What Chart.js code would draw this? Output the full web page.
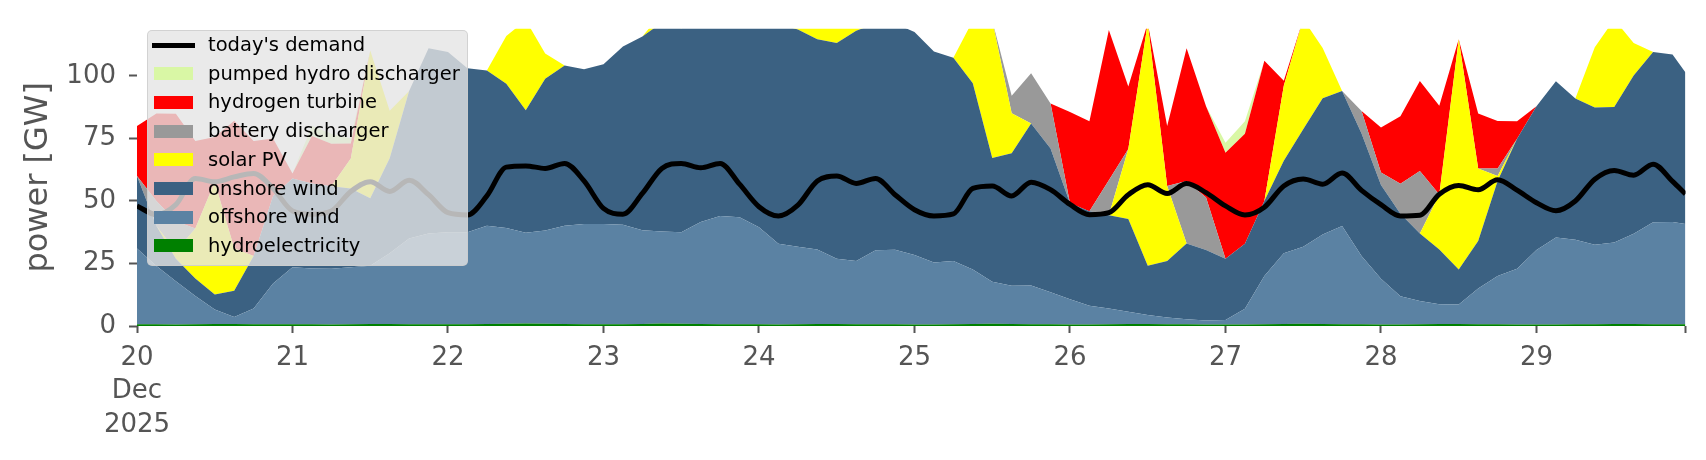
<!DOCTYPE html>
<html>
<head>
<meta charset="utf-8">
<title>power [GW]</title>
<script src="https://cdn.jsdelivr.net/npm/chart.js@4.4.1/dist/chart.umd.min.js"></script>
<style>
  html, body { margin: 0; padding: 0; background: #fff; }
  #wrap { position: relative; width: 1706px; height: 460px; }
  #legend {
    position: absolute; left: 147px; top: 30px; width: 321px; height: 236px;
    box-sizing: border-box; background: rgba(229, 229, 229, 0.8);
    border: 1px solid rgba(204, 204, 204, 0.8); border-radius: 5px;
    font-family: "DejaVu Sans", sans-serif; font-size: 19.5px; color: #000;
  }
  .row { position: absolute; left: 0; right: 0; height: 28px; }
  .row span.txt { position: absolute; left: 60px; top: 0; line-height: 28px; white-space: nowrap; }
  .row .patch { position: absolute; left: 6px; top: 7.5px; width: 39px; height: 13px; }
  .row .line { position: absolute; left: 3.5px; top: 11.5px; width: 43.5px; height: 5px; }
</style>
</head>
<body>
<div id="wrap">
  <canvas id="chart" width="1706" height="460"></canvas>
  <div id="legend"></div>
</div>
<script>
// hours since 20 Dec 2025 00:00, sampled every 3 h
const hours = [
  0, 3, 6, 9, 12, 15, 18, 21,
  24, 27, 30, 33, 36, 39, 42, 45,
  48, 51, 54, 57, 60, 63, 66, 69,
  72, 75, 78, 81, 84, 87, 90, 93,
  96, 99, 102, 105, 108, 111, 114, 117,
  120, 123, 126, 129, 132, 135, 138, 141,
  144, 147, 150, 153, 156, 159, 162, 165,
  168, 171, 174, 177, 180, 183, 186, 189,
  192, 195, 198, 201, 204, 207, 210, 213,
  216, 219, 222, 225, 228, 231, 234, 237, 239
];
const dayLabels = ["20", "21", "22", "23", "24", "25", "26", "27", "28", "29"];
const firstMonth = "Dec";
const firstYear = "2025";

// GW
const hydro = [
  0.7, 0.7, 0.6, 0.7, 0.8, 0.8, 0.7, 0.7,
  0.7, 0.7, 0.6, 0.7, 0.8, 0.8, 0.7, 0.7,
  0.7, 0.7, 0.8, 0.9, 1.0, 0.9, 0.8, 0.7,
  0.7, 0.7, 0.8, 1.0, 0.9, 0.8, 0.7, 0.7,
  0.7, 0.6, 0.7, 0.8, 0.8, 0.7, 0.7, 0.7,
  0.6, 0.6, 0.7, 0.8, 0.9, 0.8, 0.7, 0.7,
  0.6, 0.6, 0.7, 0.8, 0.8, 0.7, 0.7, 0.6,
  0.6, 0.6, 0.7, 0.8, 0.9, 0.8, 0.7, 0.7,
  0.6, 0.6, 0.7, 0.8, 0.8, 0.7, 0.7, 0.6,
  0.6, 0.6, 0.7, 0.7, 0.8, 0.8, 0.7, 0.7, 0.7
];
const offshore = [
  30.3, 23.3, 17.3, 11.3, 5.8, 2.8, 6.3, 16.3,
  22.8, 22.3, 22.3, 22.8, 23.3, 28.3, 34.3, 36.3,
  36.8, 36.8, 39.3, 38.3, 36.3, 37.3, 39.3, 40.1,
  40.1, 39.8, 37.5, 36.8, 36.6, 40.8, 43.3, 42.8,
  38.8, 32.3, 31.0, 29.8, 26.1, 25.3, 29.6, 29.8,
  27.8, 24.8, 25.3, 21.8, 16.8, 15.3, 15.5, 12.8,
  10.1, 7.5, 6.3, 4.9, 3.6, 2.7, 2.0, 1.6,
  1.8, 6.3, 19.3, 28.3, 30.8, 35.8, 39.3, 27.3,
  18.3, 11.3, 9.3, 7.9, 7.8, 14.3, 19.3, 22.3,
  29.8, 34.8, 33.8, 31.8, 32.6, 36.1, 40.8, 40.9, 40.1
];
const onshore = [
  29, 16, 9, 7, 6, 10.5, 21, 35,
  35.5, 34, 33, 31.5, 27, 38, 59, 74,
  72, 65.5, 62, 57.7, 49, 60.7, 64, 61.8,
  63.8, 71.2, 77.4, 83.5, 81.5, 80.5, 80, 80.5,
  83.5, 88, 86.8, 84, 86.2, 92, 90.7, 90.5,
  89.1, 84.3, 81.2, 74.5, 49.5, 53, 64.8, 57.5,
  38.4, 37.8, 37.3, 37.1, 19.7, 22.6, 30.3, 28.2,
  24.5, 26, 30, 37, 47, 54.5, 54, 49,
  37.5, 33, 27, 21.9, 14, 19, 38, 52,
  57.5, 62.5, 56.5, 54.9, 54.2, 63.2, 68, 66.9, 60.5
];
const solar = [
  0, 0, 3, 20, 45, 17, 0, 0,
  0, 0, 0, 12, 59, 19, 0, 0,
  0, 0, 0, 19, 36, 10, 0, 0,
  0, 0, 0, 4, 3, 3, 0, 0,
  0, 0, 3, 9, 10, 4, 0, 0,
  0, 0, 0, 25, 55, 16, 0, 0,
  0, 0, 0, 28, 97, 30, 0, 0,
  0, 0, 0, 30, 44, 20, 0, 0,
  0, 0, 0, 22, 92, 29, 2, 0,
  0, 0, 0, 24, 35, 13, 0, 0, 0
];
const battery = [
  0, 10, 12, 0, 0, 0, 0, 0,
  0, 0, 0, 0, 0, 0, 0, 0,
  0, 0, 0, 0, 0, 0, 0, 0,
  0, 0, 0, 0, 0, 0, 0, 0,
  0, 0, 0, 0, 0, 0, 0, 0,
  0, 0, 0, 0, 0, 7, 20, 18,
  0, 0, 14, 0, 0, 0, 25, 21,
  0, 0, 0, 0, 0, 0, 0, 9,
  5, 12, 25, 0, 0, 0, 3, 0,
  0, 0, 0, 0, 0, 0, 0, 0, 0
];
const hydrogen = [
  20, 35, 43, 35, 18, 51, 46, 23,
  2, 19, 17, 6, 0, 0, 0, 0,
  0, 0, 0, 0, 0, 0, 0, 0,
  0, 0, 0, 0, 0, 0, 0, 0,
  0, 0, 0, 0, 0, 0, 0, 0,
  0, 0, 0, 0, 0, 0, 0, 0,
  36.5, 36, 60, 25, 0, 24, 53, 36.5,
  42.4, 44, 56, 2, 0, 0, 0, 0,
  18, 27, 36, 35.5, 0, 22, 19, 7,
  0, 0, 0, 0, 0, 0, 0, 0, 0
];
const pumpedHydro = [
  0, 0, 0, 0, 0, 0, 0, 0,
  0, 4, 4, 2, 0, 0, 0, 0,
  0, 0, 0, 0, 0, 0, 0, 0,
  0, 0, 0, 0, 0, 0, 0, 0,
  0, 0, 0, 0, 0, 0, 0, 0,
  0, 0, 0, 0, 0, 0, 0, 0,
  0, 0, 0, 0, 0, 0, 0, 0,
  4, 5, 0, 0, 0, 0, 0, 0,
  0, 0, 0, 0, 0, 0, 0, 0,
  0, 0, 0, 0, 0, 0, 0, 0, 0
];
const demand = [
  48, 44.5, 48.5, 59, 57.7, 59.6, 61, 55,
  46, 44.7, 46, 53.8, 57.7, 53.8, 58.3, 52.5,
  45.3, 44.4, 52, 63.5, 64, 63, 65, 58,
  47, 44.7, 53, 63, 65, 63.3, 65, 56.7,
  47.7, 44, 48.3, 58, 60, 57, 59, 52.5,
  46.5, 44, 44.8, 55, 56, 52, 57.5, 54.5,
  48.6, 44.5, 45.3, 52.5, 56.5, 53, 57, 53.3,
  48, 44.4, 47.5, 56, 58.8, 56.7, 61.2, 54.2,
  48.5, 44, 44.3, 52.7, 56.2, 54.5, 58.5, 54.3,
  49.3, 46.1, 50, 58.7, 62.2, 60.3, 64.7, 57.8, 52.8
];

Chart.defaults.font.family = "'DejaVu Sans', sans-serif";

function area(label, data, color, fill) {
  return {
    label: label,
    data: data,
    backgroundColor: color,
    borderColor: color,
    borderWidth: 0,
    pointRadius: 0,
    fill: fill,
    stack: "supply",
  };
}

// legend rows: demand first, then the stack from top to bottom
const legendOrder = [0, 7, 6, 5, 4, 3, 2, 1];

const htmlLegend = {
  id: "htmlLegend",
  afterUpdate(chart) {
    const box = document.getElementById("legend");
    box.innerHTML = "";
    legendOrder.forEach((dsIndex, row) => {
      const ds = chart.data.datasets[dsIndex];
      const item = document.createElement("div");
      item.className = "row";
      item.style.top = (row * 28.71) + "px";
      const handle = document.createElement("div");
      if (ds.fill === false) {
        handle.className = "line";
        handle.style.background = ds.borderColor;
      } else {
        handle.className = "patch";
        handle.style.background = ds.backgroundColor;
      }
      const txt = document.createElement("span");
      txt.className = "txt";
      txt.textContent = ds.label;
      item.appendChild(handle);
      item.appendChild(txt);
      box.appendChild(item);
    });
  },
};

new Chart(document.getElementById("chart"), {
  type: "line",
  data: {
    labels: hours,
    datasets: [
      {
        label: "today's demand",
        data: demand,
        borderColor: "#000000",
        backgroundColor: "#000000",
        borderWidth: 5,
        pointRadius: 0,
        fill: false,
        stack: "demand",
        cubicInterpolationMode: "monotone",
        borderJoinStyle: "round",
      },
      area("hydroelectricity", hydro, "#008000", "origin"),
      area("offshore wind", offshore, "#5b82a3", "-1"),
      area("onshore wind", onshore, "#3b6182", "-1"),
      area("solar PV", solar, "#ffff00", "-1"),
      area("battery discharger", battery, "#999999", "-1"),
      area("hydrogen turbine", hydrogen, "#ff0000", "-1"),
      area("pumped hydro discharger", pumpedHydro, "#d9f7a5", "-1"),
    ],
  },
  options: {
    responsive: false,
    animation: false,
    devicePixelRatio: 1,
    layout: { padding: { left: 0, right: 20.5, top: 21.7, bottom: 0 } },
    plugins: {
      legend: { display: false },
      tooltip: { enabled: false },
    },
    elements: { line: { tension: 0 } },
    scales: {
      x: {
        type: "linear",
        min: 0,
        max: 239,
        afterFit(scale) {
          scale.height = 134;
        },
        border: { display: false },
        grid: {
          drawOnChartArea: false,
          tickLength: 7,
          tickWidth: 2,
          tickColor: "#555555",
        },
        ticks: {
          stepSize: 24,
          autoSkip: false,
          maxRotation: 0,
          padding: 8,
          color: "#555555",
          font: { size: 26, lineHeight: 1.3 },
          callback(value) {
            if (value % 24 !== 0) return "";
            const i = value / 24;
            if (i === 0) return [dayLabels[0], firstMonth, firstYear];
            return dayLabels[i];
          },
        },
      },
      y: {
        stacked: true,
        min: 0,
        max: 118.9,
        afterFit(scale) {
          scale.width = 137;
        },
        border: { display: false },
        grid: {
          drawOnChartArea: false,
          tickLength: 8,
          tickWidth: 2,
          tickColor: "#555555",
        },
        ticks: {
          stepSize: 25,
          includeBounds: false,
          padding: 13,
          color: "#555555",
          font: { size: 26 },
        },
        title: {
          display: true,
          text: "power [GW]",
          color: "#555555",
          font: { size: 32 },
          padding: { top: 19, bottom: 0 },
        },
      },
    },
  },
  plugins: [htmlLegend],
});
</script>
</body>
</html>
